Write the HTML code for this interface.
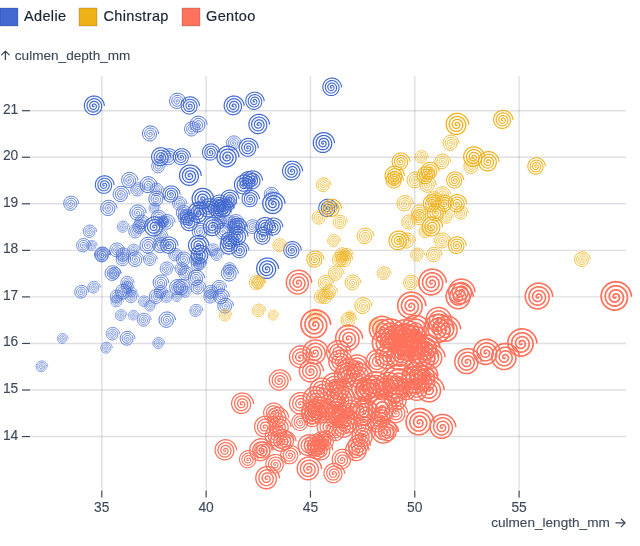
<!DOCTYPE html>
<html><head><meta charset="utf-8"><style>
html,body{margin:0;padding:0;background:#fff;}
body{width:640px;height:546px;overflow:hidden;}
svg{display:block;font-family:"Liberation Sans",sans-serif;will-change:transform;}
</style></head><body>
<svg width="640" height="546" viewBox="0 0 640 546">
<defs><path id="sp" d="M0.0000,0.0000 0.0052,0.0007 0.0101,0.0027 0.0144,0.0060 0.0180,0.0104 0.0207,0.0159 0.0221,0.0221 0.0222,0.0289 0.0208,0.0361 0.0179,0.0433 0.0135,0.0503 0.0075,0.0568 0.0000,0.0625 -0.0088,0.0671 -0.0189,0.0704 -0.0299,0.0722 -0.0417,0.0722 -0.0539,0.0702 -0.0663,0.0663 -0.0785,0.0602 -0.0902,0.0521 -0.1010,0.0419 -0.1107,0.0297 -0.1188,0.0156 -0.1250,0.0000 -0.1291,-0.0170 -0.1308,-0.0350 -0.1299,-0.0538 -0.1263,-0.0729 -0.1198,-0.0919 -0.1105,-0.1105 -0.0983,-0.1281 -0.0833,-0.1443 -0.0658,-0.1588 -0.0458,-0.1710 -0.0238,-0.1807 -0.0000,-0.1875 0.0252,-0.1911 0.0512,-0.1912 0.0777,-0.1877 0.1042,-0.1804 0.1300,-0.1694 0.1547,-0.1547 0.1777,-0.1363 0.1985,-0.1146 0.2165,-0.0897 0.2314,-0.0620 0.2427,-0.0320 0.2500,-0.0000 0.2530,0.0333 0.2515,0.0674 0.2454,0.1017 0.2345,0.1354 0.2190,0.1680 0.1989,0.1989 0.1744,0.2273 0.1458,0.2526 0.1136,0.2743 0.0782,0.2918 0.0401,0.3047 0.0000,0.3125 -0.0415,0.3150 -0.0836,0.3119 -0.1256,0.3031 -0.1667,0.2887 -0.2061,0.2686 -0.2431,0.2431 -0.2768,0.2124 -0.3067,0.1771 -0.3320,0.1375 -0.3522,0.0944 -0.3666,0.0483 -0.3750,0.0000 -0.3770,-0.0496 -0.3723,-0.0998 -0.3609,-0.1495 -0.3428,-0.1979 -0.3182,-0.2441 -0.2873,-0.2873 -0.2505,-0.3264 -0.2083,-0.3608 -0.1614,-0.3898 -0.1105,-0.4125 -0.0564,-0.4286 -0.0000,-0.4375 0.0578,-0.4389 0.1159,-0.4327 0.1734,-0.4186 0.2292,-0.3969 0.2822,-0.3678 0.3315,-0.3315 0.3760,-0.2885 0.4150,-0.2396 0.4475,-0.1854 0.4729,-0.1267 0.4906,-0.0646 0.5000,-0.0000 0.5009,0.0659 0.4930,0.1321 0.4764,0.1973 0.4511,0.2604 0.4173,0.3202 0.3757,0.3757 0.3266,0.4256 0.2708,0.4691 0.2093,0.5052 0.1429,0.5333 0.0727,0.5525 0.0000,0.5625 -0.0741,0.5629 -0.1483,0.5534 -0.2212,0.5341 -0.2917,0.5052 -0.3583,0.4669 -0.4198,0.4198 -0.4752,0.3646 -0.5232,0.3021 -0.5630,0.2332 -0.5936,0.1591 -0.6145,0.0809 -0.6250,0.0000 -0.6248,-0.0823 -0.6138,-0.1645 -0.5919,-0.2452 -0.5593,-0.3229 -0.5165,-0.3963 -0.4640,-0.4640 -0.4027,-0.5248 -0.3333,-0.5774 -0.2571,-0.6207 -0.1752,-0.6540 -0.0891,-0.6765 -0.0000,-0.6875 0.0904,-0.6868 0.1806,-0.6741 0.2691,-0.6496 0.3542,-0.6134 0.4344,-0.5661 0.5082,-0.5082 0.5744,-0.4407 0.6315,-0.3646 0.6785,-0.2810 0.7144,-0.1914 0.7384,-0.0972 0.7500,-0.0000 0.7487,0.0986 0.7345,0.1968 0.7073,0.2930 0.6676,0.3854 0.6157,0.4724 0.5524,0.5524 0.4788,0.6239 0.3958,0.6856 0.3050,0.7362 0.2076,0.7748 0.1054,0.8004 -0.0000,0.8125 -0.1067,0.8107 -0.2130,0.7949 -0.3169,0.7651 -0.4167,0.7217 -0.5105,0.6653 -0.5966,0.5966 -0.6735,0.5168 -0.7397,0.4271 -0.7940,0.3289 -0.8351,0.2238 -0.8624,0.1135 -0.8750,0.0000 -0.8727,-0.1149 -0.8552,-0.2292 -0.8228,-0.3408 -0.7758,-0.4479 -0.7148,-0.5485 -0.6408,-0.6408 -0.5549,-0.7231 -0.4583,-0.7939 -0.3528,-0.8517 -0.2399,-0.8955 -0.1217,-0.9243 -0.0000,-0.9375 0.1230,-0.9346 0.2453,-0.9156 0.3647,-0.8806 0.4792,-0.8299 0.5866,-0.7644 0.6850,-0.6850 0.7727,-0.5929 0.8480,-0.4896 0.9094,-0.3767 0.9559,-0.2561 0.9863,-0.1298 1.0000,-0.0000" fill="none" stroke-width="0.11"/></defs>
<g font-size="14.5" fill="#1a2433" letter-spacing="0.35" stroke="#1a2433" stroke-width="0.2">
<rect x="0" y="8" width="18" height="18" fill="#4269d0"/>
<text x="24" y="20.66">Adelie</text>
<rect x="79" y="8" width="18" height="18" fill="#efb118"/>
<text x="103.5" y="20.66">Chinstrap</text>
<rect x="182" y="8" width="18" height="18" fill="#ff725c"/>
<text x="206" y="20.66">Gentoo</text>
</g>
<g stroke="#303a48" stroke-opacity="0.16" stroke-width="1.4"><line x1="101.80" x2="101.80" y1="76" y2="489.6"/><line x1="206.12" x2="206.12" y1="76" y2="489.6"/><line x1="310.45" x2="310.45" y1="76" y2="489.6"/><line x1="414.77" x2="414.77" y1="76" y2="489.6"/><line x1="519.10" x2="519.10" y1="76" y2="489.6"/><line x1="30" x2="626" y1="436.55" y2="436.55"/><line x1="30" x2="626" y1="390.00" y2="390.00"/><line x1="30" x2="626" y1="343.45" y2="343.45"/><line x1="30" x2="626" y1="296.90" y2="296.90"/><line x1="30" x2="626" y1="250.35" y2="250.35"/><line x1="30" x2="626" y1="203.80" y2="203.80"/><line x1="30" x2="626" y1="157.25" y2="157.25"/><line x1="30" x2="626" y1="110.70" y2="110.70"/></g>
<g stroke="#3b4758" stroke-width="1.2"><line x1="101.80" x2="101.80" y1="490.6" y2="497.6"/><line x1="206.12" x2="206.12" y1="490.6" y2="497.6"/><line x1="310.45" x2="310.45" y1="490.6" y2="497.6"/><line x1="414.77" x2="414.77" y1="490.6" y2="497.6"/><line x1="519.10" x2="519.10" y1="490.6" y2="497.6"/><line x1="22" x2="30" y1="436.55" y2="436.55"/><line x1="22" x2="30" y1="390.00" y2="390.00"/><line x1="22" x2="30" y1="343.45" y2="343.45"/><line x1="22" x2="30" y1="296.90" y2="296.90"/><line x1="22" x2="30" y1="250.35" y2="250.35"/><line x1="22" x2="30" y1="203.80" y2="203.80"/><line x1="22" x2="30" y1="157.25" y2="157.25"/><line x1="22" x2="30" y1="110.70" y2="110.70"/></g>
<g font-size="13.8" fill="#3b4758" stroke="#3b4758" stroke-width="0.1"><text x="101.80" y="511.9" text-anchor="middle">35</text><text x="206.12" y="511.9" text-anchor="middle">40</text><text x="310.45" y="511.9" text-anchor="middle">45</text><text x="414.77" y="511.9" text-anchor="middle">50</text><text x="519.10" y="511.9" text-anchor="middle">55</text><text x="18.3" y="439.55" text-anchor="end">14</text><text x="18.3" y="393.00" text-anchor="end">15</text><text x="18.3" y="346.45" text-anchor="end">16</text><text x="18.3" y="299.90" text-anchor="end">17</text><text x="18.3" y="253.35" text-anchor="end">18</text><text x="18.3" y="206.80" text-anchor="end">19</text><text x="18.3" y="160.25" text-anchor="end">20</text><text x="18.3" y="113.70" text-anchor="end">21</text>
<text x="14.8" y="59.75" font-size="13.6">culmen_depth_mm</text>
<text x="609.8" y="527" font-size="13.6" text-anchor="end">culmen_length_mm</text>
</g>
<g fill="none" stroke="#3b4758" stroke-width="1.3" stroke-linecap="round" stroke-linejoin="round"><path d="M5.4,51.2V59.6M1.6,54.9L5.4,51.1L9.2,54.9"/><path d="M616,522.9H625M621.4,519.2L625.1,522.9L621.4,526.6"/></g>
<g fill="none"><g stroke="#4269d0"><use href="#sp" transform="translate(187.60,217.77) scale(8.50)"/><use href="#sp" transform="translate(195.94,278.28) scale(8.67)"/><use href="#sp" transform="translate(212.63,250.35) scale(6.83)"/><use href="#sp" transform="translate(137.52,189.83) scale(7.50)"/><use href="#sp" transform="translate(191.77,129.32) scale(8.17)"/><use href="#sp" transform="translate(183.42,259.66) scale(8.08)"/><use href="#sp" transform="translate(189.68,175.87) scale(11.58)"/><use href="#sp" transform="translate(83.27,245.69) scale(7.58)"/><use href="#sp" transform="translate(248.10,147.94) scale(10.17)"/><use href="#sp" transform="translate(160.47,292.24) scale(7.00)"/><use href="#sp" transform="translate(160.47,282.93) scale(8.33)"/><use href="#sp" transform="translate(229.33,268.97) scale(6.67)"/><use href="#sp" transform="translate(177.16,101.39) scale(8.67)"/><use href="#sp" transform="translate(93.70,106.04) scale(10.67)"/><use href="#sp" transform="translate(135.43,259.66) scale(8.33)"/><use href="#sp" transform="translate(179.25,203.80) scale(7.50)"/><use href="#sp" transform="translate(258.54,124.67) scale(11.00)"/><use href="#sp" transform="translate(89.53,231.73) scale(7.08)"/><use href="#sp" transform="translate(331.56,87.43) scale(10.00)"/><use href="#sp" transform="translate(160.47,236.38) scale(7.33)"/><use href="#sp" transform="translate(158.39,217.77) scale(8.00)"/><use href="#sp" transform="translate(120.83,194.49) scale(8.67)"/><use href="#sp" transform="translate(168.82,245.69) scale(9.17)"/><use href="#sp" transform="translate(181.34,287.59) scale(8.67)"/><use href="#sp" transform="translate(108.31,208.46) scale(8.67)"/><use href="#sp" transform="translate(218.89,222.42) scale(7.83)"/><use href="#sp" transform="translate(216.81,255.01) scale(6.67)"/><use href="#sp" transform="translate(162.56,222.42) scale(6.50)"/><use href="#sp" transform="translate(216.81,208.46) scale(9.17)"/><use href="#sp" transform="translate(195.94,310.87) scale(6.83)"/><use href="#sp" transform="translate(147.95,245.69) scale(9.00)"/><use href="#sp" transform="translate(195.94,259.66) scale(7.00)"/><use href="#sp" transform="translate(225.15,208.46) scale(9.00)"/><use href="#sp" transform="translate(131.26,296.90) scale(7.08)"/><use href="#sp" transform="translate(189.68,106.04) scale(9.83)"/><use href="#sp" transform="translate(181.34,157.25) scale(9.17)"/><use href="#sp" transform="translate(252.28,227.07) scale(7.83)"/><use href="#sp" transform="translate(156.30,189.83) scale(7.00)"/><use href="#sp" transform="translate(202.20,199.14) scale(11.50)"/><use href="#sp" transform="translate(133.35,250.35) scale(6.50)"/><use href="#sp" transform="translate(223.07,231.73) scale(9.00)"/><use href="#sp" transform="translate(122.91,227.07) scale(6.33)"/><use href="#sp" transform="translate(291.92,171.22) scale(10.67)"/><use href="#sp" transform="translate(143.78,301.56) scale(6.00)"/><use href="#sp" transform="translate(198.03,213.11) scale(11.33)"/><use href="#sp" transform="translate(229.33,203.80) scale(7.42)"/><use href="#sp" transform="translate(154.21,208.46) scale(5.92)"/><use href="#sp" transform="translate(122.91,255.01) scale(7.50)"/><use href="#sp" transform="translate(254.36,101.39) scale(9.83)"/><use href="#sp" transform="translate(198.03,264.32) scale(7.67)"/><use href="#sp" transform="translate(208.46,208.46) scale(10.33)"/><use href="#sp" transform="translate(102.05,255.01) scale(7.50)"/><use href="#sp" transform="translate(248.10,180.52) scale(9.50)"/><use href="#sp" transform="translate(91.62,245.69) scale(5.67)"/><use href="#sp" transform="translate(235.59,222.42) scale(8.33)"/><use href="#sp" transform="translate(185.51,273.62) scale(7.83)"/><use href="#sp" transform="translate(218.89,213.11) scale(8.67)"/><use href="#sp" transform="translate(133.35,315.52) scale(5.50)"/><use href="#sp" transform="translate(156.30,199.14) scale(8.50)"/><use href="#sp" transform="translate(116.66,301.56) scale(6.50)"/><use href="#sp" transform="translate(233.50,106.04) scale(10.67)"/><use href="#sp" transform="translate(156.30,296.90) scale(8.00)"/><use href="#sp" transform="translate(229.33,241.04) scale(9.50)"/><use href="#sp" transform="translate(131.26,292.24) scale(5.50)"/><use href="#sp" transform="translate(239.76,250.35) scale(9.17)"/><use href="#sp" transform="translate(112.48,334.14) scale(7.17)"/><use href="#sp" transform="translate(229.33,199.14) scale(9.67)"/><use href="#sp" transform="translate(120.83,315.52) scale(6.17)"/><use href="#sp" transform="translate(243.93,185.18) scale(10.83)"/><use href="#sp" transform="translate(70.75,203.80) scale(8.00)"/><use href="#sp" transform="translate(200.12,231.73) scale(9.00)"/><use href="#sp" transform="translate(198.03,287.59) scale(7.83)"/><use href="#sp" transform="translate(327.39,208.46) scale(9.83)"/><use href="#sp" transform="translate(112.48,273.62) scale(8.33)"/><use href="#sp" transform="translate(264.80,227.07) scale(10.17)"/><use href="#sp" transform="translate(225.15,306.21) scale(8.33)"/><use href="#sp" transform="translate(147.95,185.18) scale(9.00)"/><use href="#sp" transform="translate(127.09,338.79) scale(7.83)"/><use href="#sp" transform="translate(250.19,199.14) scale(9.33)"/><use href="#sp" transform="translate(93.70,287.59) scale(6.67)"/><use href="#sp" transform="translate(266.88,268.97) scale(11.67)"/><use href="#sp" transform="translate(137.52,213.11) scale(8.67)"/><use href="#sp" transform="translate(104.14,185.18) scale(10.00)"/><use href="#sp" transform="translate(150.04,259.66) scale(7.17)"/><use href="#sp" transform="translate(233.50,143.28) scale(7.83)"/><use href="#sp" transform="translate(129.17,180.52) scale(8.67)"/><use href="#sp" transform="translate(141.69,222.42) scale(7.67)"/><use href="#sp" transform="translate(170.90,194.49) scale(9.17)"/><use href="#sp" transform="translate(183.42,213.11) scale(8.00)"/><use href="#sp" transform="translate(116.66,250.35) scale(7.83)"/><use href="#sp" transform="translate(229.33,245.69) scale(10.33)"/><use href="#sp" transform="translate(81.19,292.24) scale(7.33)"/><use href="#sp" transform="translate(198.03,245.69) scale(10.83)"/><use href="#sp" transform="translate(127.09,282.93) scale(7.00)"/><use href="#sp" transform="translate(223.07,208.46) scale(10.33)"/><use href="#sp" transform="translate(166.73,222.42) scale(8.33)"/><use href="#sp" transform="translate(212.63,227.07) scale(10.50)"/><use href="#sp" transform="translate(62.41,338.79) scale(5.67)"/><use href="#sp" transform="translate(273.14,227.07) scale(9.67)"/><use href="#sp" transform="translate(102.05,255.01) scale(8.42)"/><use href="#sp" transform="translate(227.24,157.25) scale(11.75)"/><use href="#sp" transform="translate(158.39,343.45) scale(6.25)"/><use href="#sp" transform="translate(160.47,157.25) scale(10.17)"/><use href="#sp" transform="translate(162.56,222.42) scale(5.75)"/><use href="#sp" transform="translate(200.12,208.46) scale(7.83)"/><use href="#sp" transform="translate(177.16,287.59) scale(8.50)"/><use href="#sp" transform="translate(168.82,157.25) scale(9.00)"/><use href="#sp" transform="translate(166.73,296.90) scale(6.58)"/><use href="#sp" transform="translate(273.14,203.80) scale(11.92)"/><use href="#sp" transform="translate(166.73,320.18) scale(8.75)"/><use href="#sp" transform="translate(323.22,143.28) scale(11.33)"/><use href="#sp" transform="translate(200.12,264.32) scale(6.67)"/><use href="#sp" transform="translate(252.28,180.52) scale(10.25)"/><use href="#sp" transform="translate(198.03,124.67) scale(9.00)"/><use href="#sp" transform="translate(262.71,236.38) scale(9.58)"/><use href="#sp" transform="translate(177.16,296.90) scale(5.67)"/><use href="#sp" transform="translate(150.04,133.97) scale(8.58)"/><use href="#sp" transform="translate(116.66,296.90) scale(7.17)"/><use href="#sp" transform="translate(229.33,222.42) scale(7.08)"/><use href="#sp" transform="translate(127.09,287.59) scale(6.50)"/><use href="#sp" transform="translate(158.39,166.56) scale(7.67)"/><use href="#sp" transform="translate(210.55,296.90) scale(7.50)"/><use href="#sp" transform="translate(235.59,227.07) scale(8.92)"/><use href="#sp" transform="translate(106.22,348.10) scale(6.17)"/><use href="#sp" transform="translate(218.89,203.80) scale(9.33)"/><use href="#sp" transform="translate(181.34,268.97) scale(6.92)"/><use href="#sp" transform="translate(237.67,236.38) scale(10.33)"/><use href="#sp" transform="translate(185.51,292.24) scale(6.17)"/><use href="#sp" transform="translate(291.92,250.35) scale(9.33)"/><use href="#sp" transform="translate(175.08,255.01) scale(7.08)"/><use href="#sp" transform="translate(271.06,194.49) scale(7.67)"/><use href="#sp" transform="translate(139.61,227.07) scale(7.67)"/><use href="#sp" transform="translate(154.21,227.07) scale(10.92)"/><use href="#sp" transform="translate(166.73,268.97) scale(7.42)"/><use href="#sp" transform="translate(229.33,273.62) scale(9.00)"/><use href="#sp" transform="translate(114.57,273.62) scale(6.58)"/><use href="#sp" transform="translate(210.55,152.59) scale(9.25)"/><use href="#sp" transform="translate(143.78,320.18) scale(7.33)"/><use href="#sp" transform="translate(200.12,255.01) scale(10.17)"/><use href="#sp" transform="translate(210.55,292.24) scale(7.33)"/><use href="#sp" transform="translate(218.89,287.59) scale(7.58)"/><use href="#sp" transform="translate(41.54,366.72) scale(6.17)"/><use href="#sp" transform="translate(220.98,296.90) scale(8.42)"/><use href="#sp" transform="translate(150.04,306.21) scale(6.00)"/><use href="#sp" transform="translate(185.51,217.77) scale(8.17)"/><use href="#sp" transform="translate(189.68,222.42) scale(10.17)"/><use href="#sp" transform="translate(135.43,231.73) scale(7.58)"/><use href="#sp" transform="translate(122.91,259.66) scale(7.50)"/><use href="#sp" transform="translate(160.47,245.69) scale(8.50)"/><use href="#sp" transform="translate(122.91,292.24) scale(8.33)"/><use href="#sp" transform="translate(237.67,227.07) scale(9.33)"/></g><g stroke="#efb118"><use href="#sp" transform="translate(342.00,255.01) scale(7.67)"/><use href="#sp" transform="translate(415.02,180.52) scale(9.00)"/><use href="#sp" transform="translate(442.15,194.49) scale(8.17)"/><use href="#sp" transform="translate(319.05,217.77) scale(7.75)"/><use href="#sp" transform="translate(471.36,166.56) scale(8.42)"/><use href="#sp" transform="translate(314.87,259.66) scale(9.17)"/><use href="#sp" transform="translate(333.65,241.04) scale(6.83)"/><use href="#sp" transform="translate(442.15,241.04) scale(8.50)"/><use href="#sp" transform="translate(331.56,208.46) scale(9.83)"/><use href="#sp" transform="translate(442.15,161.91) scale(8.33)"/><use href="#sp" transform="translate(344.08,259.66) scale(8.67)"/><use href="#sp" transform="translate(450.50,143.28) scale(8.58)"/><use href="#sp" transform="translate(352.43,282.93) scale(8.33)"/><use href="#sp" transform="translate(456.75,245.69) scale(9.50)"/><use href="#sp" transform="translate(329.48,292.24) scale(7.92)"/><use href="#sp" transform="translate(425.46,175.87) scale(9.50)"/><use href="#sp" transform="translate(421.28,157.25) scale(7.00)"/><use href="#sp" transform="translate(581.94,259.66) scale(8.33)"/><use href="#sp" transform="translate(339.91,222.42) scale(7.50)"/><use href="#sp" transform="translate(398.33,241.04) scale(10.67)"/><use href="#sp" transform="translate(256.45,282.93) scale(8.00)"/><use href="#sp" transform="translate(383.73,273.62) scale(7.33)"/><use href="#sp" transform="translate(273.14,315.52) scale(5.67)"/><use href="#sp" transform="translate(427.54,185.18) scale(8.67)"/><use href="#sp" transform="translate(346.17,255.01) scale(7.00)"/><use href="#sp" transform="translate(456.75,203.80) scale(9.83)"/><use href="#sp" transform="translate(425.46,231.73) scale(7.33)"/><use href="#sp" transform="translate(404.59,203.80) scale(8.67)"/><use href="#sp" transform="translate(339.91,259.66) scale(8.33)"/><use href="#sp" transform="translate(473.45,157.25) scale(11.17)"/><use href="#sp" transform="translate(225.15,315.52) scale(6.67)"/><use href="#sp" transform="translate(502.66,120.01) scale(10.33)"/><use href="#sp" transform="translate(258.54,310.87) scale(7.17)"/><use href="#sp" transform="translate(435.89,213.11) scale(9.67)"/><use href="#sp" transform="translate(408.77,222.42) scale(8.00)"/><use href="#sp" transform="translate(362.86,306.21) scale(9.00)"/><use href="#sp" transform="translate(364.95,236.38) scale(8.83)"/><use href="#sp" transform="translate(456.75,124.67) scale(12.00)"/><use href="#sp" transform="translate(350.34,315.52) scale(5.00)"/><use href="#sp" transform="translate(488.05,161.91) scale(11.00)"/><use href="#sp" transform="translate(394.16,180.52) scale(9.17)"/><use href="#sp" transform="translate(335.74,273.62) scale(8.17)"/><use href="#sp" transform="translate(433.80,199.14) scale(7.83)"/><use href="#sp" transform="translate(321.13,296.90) scale(7.67)"/><use href="#sp" transform="translate(433.80,255.01) scale(8.25)"/><use href="#sp" transform="translate(431.72,227.07) scale(10.83)"/><use href="#sp" transform="translate(417.11,255.01) scale(7.33)"/><use href="#sp" transform="translate(394.16,175.87) scale(10.33)"/><use href="#sp" transform="translate(446.32,217.77) scale(6.83)"/><use href="#sp" transform="translate(410.85,282.93) scale(8.25)"/><use href="#sp" transform="translate(375.38,324.83) scale(7.08)"/><use href="#sp" transform="translate(444.24,203.80) scale(9.17)"/><use href="#sp" transform="translate(325.31,282.93) scale(8.00)"/><use href="#sp" transform="translate(429.63,171.22) scale(9.50)"/><use href="#sp" transform="translate(258.54,282.93) scale(7.17)"/><use href="#sp" transform="translate(460.93,213.11) scale(7.50)"/><use href="#sp" transform="translate(314.87,315.52) scale(6.83)"/><use href="#sp" transform="translate(400.42,161.91) scale(9.50)"/><use href="#sp" transform="translate(419.20,213.11) scale(8.67)"/><use href="#sp" transform="translate(323.22,185.18) scale(7.75)"/><use href="#sp" transform="translate(454.67,180.52) scale(9.17)"/><use href="#sp" transform="translate(348.26,320.18) scale(8.17)"/><use href="#sp" transform="translate(325.31,296.90) scale(8.17)"/><use href="#sp" transform="translate(536.04,166.56) scale(9.33)"/><use href="#sp" transform="translate(279.40,245.69) scale(7.33)"/><use href="#sp" transform="translate(406.68,241.04) scale(8.58)"/><use href="#sp" transform="translate(431.72,203.80) scale(9.67)"/><use href="#sp" transform="translate(419.20,217.77) scale(8.58)"/></g><g stroke="#ff725c"><use href="#sp" transform="translate(333.65,473.79) scale(11.00)"/><use href="#sp" transform="translate(415.02,329.48) scale(15.00)"/><use href="#sp" transform="translate(387.90,431.89) scale(10.83)"/><use href="#sp" transform="translate(415.02,380.69) scale(15.00)"/><use href="#sp" transform="translate(364.95,413.27) scale(14.00)"/><use href="#sp" transform="translate(342.00,459.82) scale(11.17)"/><use href="#sp" transform="translate(319.05,408.62) scale(12.00)"/><use href="#sp" transform="translate(346.17,376.03) scale(13.33)"/><use href="#sp" transform="translate(275.23,464.48) scale(10.67)"/><use href="#sp" transform="translate(348.26,371.38) scale(13.17)"/><use href="#sp" transform="translate(225.15,450.51) scale(11.50)"/><use href="#sp" transform="translate(394.16,338.79) scale(14.50)"/><use href="#sp" transform="translate(321.13,450.51) scale(11.50)"/><use href="#sp" transform="translate(381.64,408.62) scale(15.50)"/><use href="#sp" transform="translate(327.39,408.62) scale(10.00)"/><use href="#sp" transform="translate(400.42,357.42) scale(15.50)"/><use href="#sp" transform="translate(248.10,459.82) scale(9.83)"/><use href="#sp" transform="translate(398.33,380.69) scale(17.00)"/><use href="#sp" transform="translate(335.74,413.27) scale(12.00)"/><use href="#sp" transform="translate(387.90,385.34) scale(13.83)"/><use href="#sp" transform="translate(419.20,422.58) scale(15.00)"/><use href="#sp" transform="translate(312.79,413.27) scale(12.67)"/><use href="#sp" transform="translate(342.00,413.27) scale(10.67)"/><use href="#sp" transform="translate(337.82,352.76) scale(12.83)"/><use href="#sp" transform="translate(266.88,478.44) scale(12.67)"/><use href="#sp" transform="translate(333.65,385.34) scale(13.00)"/><use href="#sp" transform="translate(300.27,422.58) scale(9.67)"/><use href="#sp" transform="translate(369.12,390.00) scale(14.83)"/><use href="#sp" transform="translate(377.47,422.58) scale(11.33)"/><use href="#sp" transform="translate(415.02,376.03) scale(14.50)"/><use href="#sp" transform="translate(358.69,376.03) scale(13.50)"/><use href="#sp" transform="translate(264.80,427.24) scale(11.67)"/><use href="#sp" transform="translate(312.79,413.27) scale(12.83)"/><use href="#sp" transform="translate(615.33,296.90) scale(16.17)"/><use href="#sp" transform="translate(396.25,399.31) scale(13.17)"/><use href="#sp" transform="translate(381.64,329.48) scale(14.00)"/><use href="#sp" transform="translate(260.62,450.51) scale(12.50)"/><use href="#sp" transform="translate(298.18,282.93) scale(13.50)"/><use href="#sp" transform="translate(289.83,455.17) scale(10.50)"/><use href="#sp" transform="translate(387.90,357.42) scale(13.83)"/><use href="#sp" transform="translate(262.71,450.51) scale(9.17)"/><use href="#sp" transform="translate(406.68,343.45) scale(15.00)"/><use href="#sp" transform="translate(316.96,450.51) scale(10.33)"/><use href="#sp" transform="translate(406.68,390.00) scale(11.83)"/><use href="#sp" transform="translate(425.46,348.10) scale(14.50)"/><use href="#sp" transform="translate(281.49,441.20) scale(12.33)"/><use href="#sp" transform="translate(321.13,441.20) scale(10.00)"/><use href="#sp" transform="translate(425.46,348.10) scale(14.00)"/><use href="#sp" transform="translate(308.61,469.13) scale(13.00)"/><use href="#sp" transform="translate(314.87,352.76) scale(13.67)"/><use href="#sp" transform="translate(344.08,427.24) scale(12.17)"/><use href="#sp" transform="translate(383.73,431.89) scale(13.67)"/><use href="#sp" transform="translate(312.79,417.93) scale(10.67)"/><use href="#sp" transform="translate(417.11,390.00) scale(12.67)"/><use href="#sp" transform="translate(342.00,417.93) scale(12.33)"/><use href="#sp" transform="translate(310.70,371.38) scale(12.83)"/><use href="#sp" transform="translate(285.66,441.20) scale(10.33)"/><use href="#sp" transform="translate(321.13,390.00) scale(12.67)"/><use href="#sp" transform="translate(273.14,413.27) scale(10.83)"/><use href="#sp" transform="translate(423.37,376.03) scale(14.50)"/><use href="#sp" transform="translate(316.96,445.86) scale(10.00)"/><use href="#sp" transform="translate(335.74,394.65) scale(13.67)"/><use href="#sp" transform="translate(325.31,441.20) scale(10.67)"/><use href="#sp" transform="translate(504.74,357.42) scale(14.83)"/><use href="#sp" transform="translate(327.39,427.24) scale(11.67)"/><use href="#sp" transform="translate(410.85,306.21) scale(15.00)"/><use href="#sp" transform="translate(335.74,417.93) scale(11.50)"/><use href="#sp" transform="translate(404.59,334.14) scale(15.33)"/><use href="#sp" transform="translate(279.40,427.24) scale(11.67)"/><use href="#sp" transform="translate(429.63,390.00) scale(14.50)"/><use href="#sp" transform="translate(367.04,390.00) scale(11.83)"/><use href="#sp" transform="translate(339.91,362.07) scale(12.67)"/><use href="#sp" transform="translate(377.47,362.07) scale(13.00)"/><use href="#sp" transform="translate(342.00,399.31) scale(13.33)"/><use href="#sp" transform="translate(339.91,390.00) scale(11.67)"/><use href="#sp" transform="translate(385.81,343.45) scale(15.33)"/><use href="#sp" transform="translate(362.86,427.24) scale(11.33)"/><use href="#sp" transform="translate(437.98,329.48) scale(16.00)"/><use href="#sp" transform="translate(314.87,445.86) scale(11.83)"/><use href="#sp" transform="translate(314.87,324.83) scale(15.83)"/><use href="#sp" transform="translate(396.25,413.27) scale(11.42)"/><use href="#sp" transform="translate(467.19,362.07) scale(14.17)"/><use href="#sp" transform="translate(360.78,408.62) scale(11.75)"/><use href="#sp" transform="translate(415.02,348.10) scale(13.83)"/><use href="#sp" transform="translate(308.61,445.86) scale(11.83)"/><use href="#sp" transform="translate(431.72,282.93) scale(14.67)"/><use href="#sp" transform="translate(277.32,417.93) scale(11.33)"/><use href="#sp" transform="translate(442.15,427.24) scale(13.67)"/><use href="#sp" transform="translate(362.86,436.55) scale(12.25)"/><use href="#sp" transform="translate(458.84,296.90) scale(14.50)"/><use href="#sp" transform="translate(362.86,390.00) scale(12.50)"/><use href="#sp" transform="translate(460.93,292.24) scale(14.00)"/><use href="#sp" transform="translate(321.13,413.27) scale(11.83)"/><use href="#sp" transform="translate(404.59,338.79) scale(14.83)"/><use href="#sp" transform="translate(300.27,403.97) scale(12.17)"/><use href="#sp" transform="translate(431.72,357.42) scale(13.33)"/><use href="#sp" transform="translate(402.51,352.76) scale(12.42)"/><use href="#sp" transform="translate(350.34,408.62) scale(12.25)"/><use href="#sp" transform="translate(381.64,417.93) scale(11.42)"/><use href="#sp" transform="translate(437.98,320.18) scale(13.50)"/><use href="#sp" transform="translate(383.73,390.00) scale(12.17)"/><use href="#sp" transform="translate(538.13,296.90) scale(14.67)"/><use href="#sp" transform="translate(356.60,366.72) scale(12.58)"/><use href="#sp" transform="translate(396.25,390.00) scale(14.33)"/><use href="#sp" transform="translate(358.69,445.86) scale(11.75)"/><use href="#sp" transform="translate(348.26,338.79) scale(14.33)"/><use href="#sp" transform="translate(241.85,403.97) scale(11.67)"/><use href="#sp" transform="translate(485.97,352.76) scale(14.33)"/><use href="#sp" transform="translate(275.23,436.55) scale(11.25)"/><use href="#sp" transform="translate(375.38,385.34) scale(14.33)"/><use href="#sp" transform="translate(425.46,380.69) scale(12.67)"/><use href="#sp" transform="translate(410.85,348.10) scale(15.83)"/><use href="#sp" transform="translate(279.40,380.69) scale(11.50)"/><use href="#sp" transform="translate(446.32,329.48) scale(14.33)"/><use href="#sp" transform="translate(335.74,431.89) scale(10.58)"/><use href="#sp" transform="translate(521.44,343.45) scale(15.50)"/><use href="#sp" transform="translate(300.27,357.42) scale(12.25)"/><use href="#sp" transform="translate(389.99,334.14) scale(16.00)"/><use href="#sp" transform="translate(356.60,450.51) scale(12.42)"/><use href="#sp" transform="translate(348.26,422.58) scale(12.17)"/><use href="#sp" transform="translate(423.37,357.42) scale(15.17)"/><use href="#sp" transform="translate(314.87,399.31) scale(13.33)"/><use href="#sp" transform="translate(412.94,338.79) scale(14.00)"/></g></g>
</svg>
</body></html>
